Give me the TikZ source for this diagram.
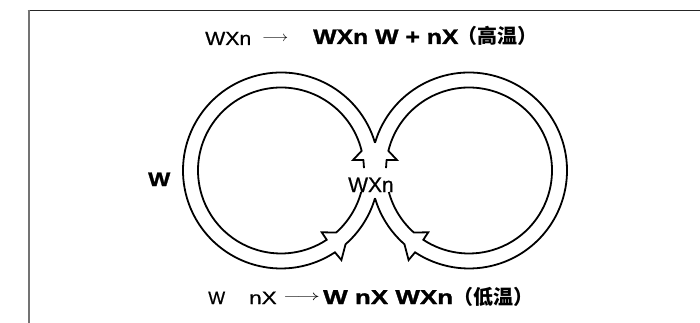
\documentclass[tikz,border=0pt]{standalone}
\usepackage{fontspec}
\setmainfont{Liberation Sans}[FakeBold=0.6, BoldFeatures={FakeBold=1.2}]
\newfontfamily\cjk{Noto Sans CJK SC}
\usepackage{graphicx}
\usetikzlibrary{calc}
\newcommand\sx[2]{\scalebox{#1}[1]{#2}}
\tikzset{
  ringline/.style={draw=black, line width=1.8pt, line join=miter, miter limit=20},
  txt/.style={inner sep=0pt, anchor=base west},
  arr/.style={inner sep=0pt, anchor=west},
  ring/.pic={
    \draw[ringline] (-16.4:98) arc[start angle=-16.4, end angle=-303.4, radius=98]
        -- (-304:108) -- (-311.2:98)
        arc[start angle=-311.2, end angle=-343.6, radius=98];
    \draw[ringline] (-1.7:83) arc[start angle=-1.7, end angle=-7.2, radius=83]
        -- (-8.3:72.8) -- (-13.7:83)
        arc[start angle=-13.7, end angle=-303.4, radius=83]
        -- (-303.4:74) -- (-311.6:83)
        arc[start angle=-311.6, end angle=-345, radius=83];
  }
}
\begin{document}
\begin{tikzpicture}[x=1pt, y=-1pt]
\useasboundingbox (0,0) rectangle (700,323);
% frame
\draw[line width=1.5pt, black!85] (27.5,10.5) -- (700,10.5);
\draw[line width=2pt, black!55] (28.5,10) -- (28.5,323);
% rings
\pic (left) at (281,170.5) {ring};
\pic[xscale=-1] (right) at (469,170.5) {ring};
% top equation
\node[txt] (t1) at (205,45) {\fontsize{19}{22}\selectfont\sx{1.12}{WXn}};
\node[arr] (a1) at (262,39) {\fontsize{14}{16}\selectfont\resizebox{26pt}{\height}{$\longrightarrow$}};
\node[txt] (t2) at (313,44) {\fontsize{21}{24}\selectfont\bfseries\sx{1.18}{WXn W + nX}};
\node[txt] (t3) at (457,44) {\cjk\bfseries\fontsize{20}{24}\selectfont （高温）};
% middle labels
\node[txt] (w) at (148,186) {\fontsize{19.5}{22}\selectfont\bfseries\sx{1.2}{W}};
\node[txt] (c) at (348,192) {\fontsize{21}{24}\selectfont WXn};
% bottom equation
\node[txt] (b1) at (208,304) {\fontsize{18}{20}\selectfont W};
\node[txt] (b2) at (249,304) {\fontsize{18}{20}\selectfont\sx{1.25}{nX}};
\node[arr] (a2) at (283,298) {\fontsize{14}{16}\selectfont\resizebox{37pt}{\height}{$\longrightarrow$}};
\node[txt] (b3) at (323,304) {\fontsize{20}{22}\selectfont\bfseries\sx{1.3}{W nX WXn}};
\node[txt] (b4) at (453,304) {\cjk\bfseries\fontsize{20}{24}\selectfont （低温）};
\end{tikzpicture}
\end{document}
